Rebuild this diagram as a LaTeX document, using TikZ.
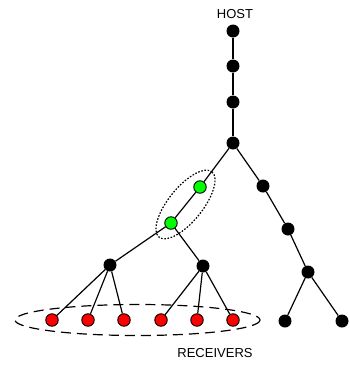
\documentclass[tikz,border=0pt]{standalone}
\usepackage{fontspec}
\setmainfont{Liberation Sans}
\usetikzlibrary{backgrounds}
\begin{document}
\begin{tikzpicture}[x=1pt,y=-1pt,
  router/.style={circle,fill=black,inner sep=0pt,minimum size=13pt},
  relay/.style={circle,draw=black,line width=0.9pt,fill=green,inner sep=0pt,minimum size=12.5pt},
  receiver/.style={circle,draw=black,line width=0.9pt,fill=red,inner sep=0pt,minimum size=12.5pt},
  link/.style={line width=1.2pt},
  lbl/.style={font=\fontsize{13}{15}\selectfont,inner sep=0pt}]
\useasboundingbox (0,0) rectangle (349,365);

% host and upstream chain
\node[lbl] (hostlbl) at (235,14) {HOST};
\node[router] (h1) at (233,31) {};
\node[router] (h2) at (233,66) {};
\node[router] (h3) at (233,102) {};
\node[router] (h4) at (233,143) {};

% right branch
\node[router] (r1) at (263,186) {};
\node[router] (r2) at (288,229) {};
\node[router] (r3) at (308,272) {};
\node[router] (r4) at (285,321) {};
\node[router] (r5) at (342,321) {};

% left branch with relay nodes
\node[relay] (g1) at (200,187) {};
\node[relay] (g2) at (171,223) {};
\node[router] (b1) at (110,265) {};
\node[router] (b2) at (203,266) {};

% receivers
\node[receiver] (e1) at (52,320) {};
\node[receiver] (e2) at (88,320) {};
\node[receiver] (e3) at (124,320) {};
\node[receiver] (e4) at (161,320) {};
\node[receiver] (e5) at (197,320) {};
\node[receiver] (e6) at (233,320) {};

\node[lbl] (rcvlbl) at (215,353) {RECEIVERS};

\begin{scope}[on background layer]
% links
\draw[link] (h1) -- (h2) -- (h3) -- (h4);
\draw[link] (h4) -- (r1) -- (r2) -- (r3);
\draw[link] (r3) -- (r4);
\draw[link] (r3) -- (r5);
\draw[link] (h4) -- (g1) -- (g2);
\draw[link] (g2) -- (b1);
\draw[link] (g2) -- (b2);
\draw[link] (b1) -- (e1);
\draw[link] (b1) -- (e2);
\draw[link] (b1) -- (e3);
\draw[link] (b2) -- (e4);
\draw[link] (b2) -- (e5);
\draw[link] (b2) -- (e6);
% groupings
\draw[line width=1.2pt,dash pattern=on 1.6pt off 1.6pt] (185.5,204.5) ellipse[x radius=42,y radius=17,rotate=51];
\draw[line width=1.2pt,dash pattern=on 10pt off 6pt] (137.5,320) ellipse[x radius=122.5,y radius=15.5];
\end{scope}
\end{tikzpicture}
\end{document}
